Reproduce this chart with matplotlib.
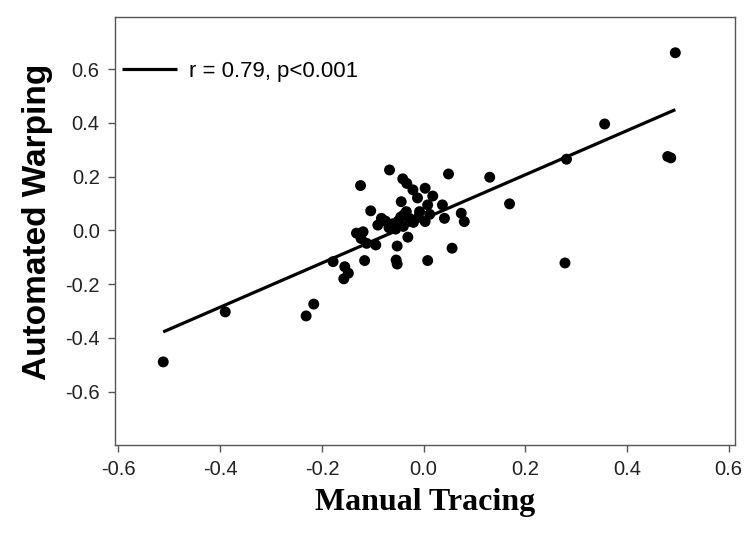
import numpy as np
import matplotlib
matplotlib.use('Agg')
import matplotlib.pyplot as plt

# manual tracing (x) vs automated warping (y)
manual = [
    -0.512, -0.390, -0.231, -0.216, -0.178, -0.155, -0.148, -0.157,
    -0.132, -0.119, -0.123, -0.112, -0.094, -0.116, -0.124, -0.067,
    -0.104, -0.083, -0.044, -0.041, -0.033, -0.021, 0.003, 0.018,
    -0.012, 0.008, 0.037, 0.049, 0.074, 0.080, 0.041, 0.003,
    -0.008, -0.034, -0.031, 0.008, 0.056, -0.052, -0.054, -0.052,
    0.130, 0.169, 0.281, 0.278, 0.356, 0.480, 0.486, 0.495,
    -0.090, -0.075, -0.068, -0.060, -0.050, -0.045, -0.038, -0.028,
    -0.020, -0.010, -0.055, -0.040, 0.012,
]
automated = [
    -0.489, -0.303, -0.318, -0.274, -0.116, -0.135, -0.159, -0.180,
    -0.010, -0.005, -0.030, -0.048, -0.054, -0.112, 0.167, 0.225,
    0.073, 0.045, 0.107, 0.192, 0.175, 0.151, 0.157, 0.128,
    0.121, 0.095, 0.095, 0.210, 0.064, 0.033, 0.045, 0.033,
    0.070, 0.070, -0.025, -0.112, -0.066, -0.058, -0.110, -0.125,
    0.198, 0.099, 0.265, -0.121, 0.396, 0.275, 0.270, 0.661,
    0.020, 0.035, 0.010, 0.025, 0.035, 0.050, 0.060, 0.045,
    0.030, 0.050, 0.005, 0.015, 0.060,
]
# regression line as drawn in the figure
fit_slope = 0.821
fit_intercept = 0.043
fit_label = 'r = 0.79, p<0.001'
ticks = [-0.6, -0.4, -0.2, 0.0, 0.2, 0.4, 0.6]

x = np.array(manual)
y = np.array(automated)
xl = np.array([x.min(), x.max()])

plt.rcParams['font.family'] = ['Liberation Sans', 'DejaVu Sans']

fig = plt.figure(figsize=(7.56, 5.4), dpi=100)
ax = fig.add_axes([0.152, 0.176, 0.820, 0.793])

ax.plot(xl, fit_slope * xl + fit_intercept, color='black', lw=2.3,
        label=fit_label, solid_capstyle='butt')
ax.scatter(x, y, s=62, color='black', edgecolors='none', zorder=3)

ax.set_xlim(-0.607, 0.612)
ax.set_ylim(-0.798, 0.795)
ax.set_xticks(ticks)
ax.set_yticks(ticks)
ax.set_xticklabels([f'{t:.1f}' for t in ticks])
ax.set_yticklabels([f'{t:.1f}' for t in ticks])
ax.tick_params(direction='out', length=5, width=1, color='#555555',
               labelsize=14.5, labelcolor='#222222', pad=6)
for s in ax.spines.values():
    s.set_color('#555555')
    s.set_linewidth(1)

ax.set_xlabel('Manual Tracing', family=['Liberation Serif', 'DejaVu Serif'],
              fontweight='bold', fontsize=23, labelpad=6)
ax.set_ylabel('Automated Warping', fontweight='bold', fontsize=24)
ax.yaxis.set_label_coords(-0.100, 0.522)

ax.legend(loc='upper left', frameon=False, fontsize=16, handlelength=2.5,
          handletextpad=0.55, borderaxespad=0.0, borderpad=0.3,
          bbox_to_anchor=(0.0, 0.913))

fig.savefig('out.png', dpi=100)
